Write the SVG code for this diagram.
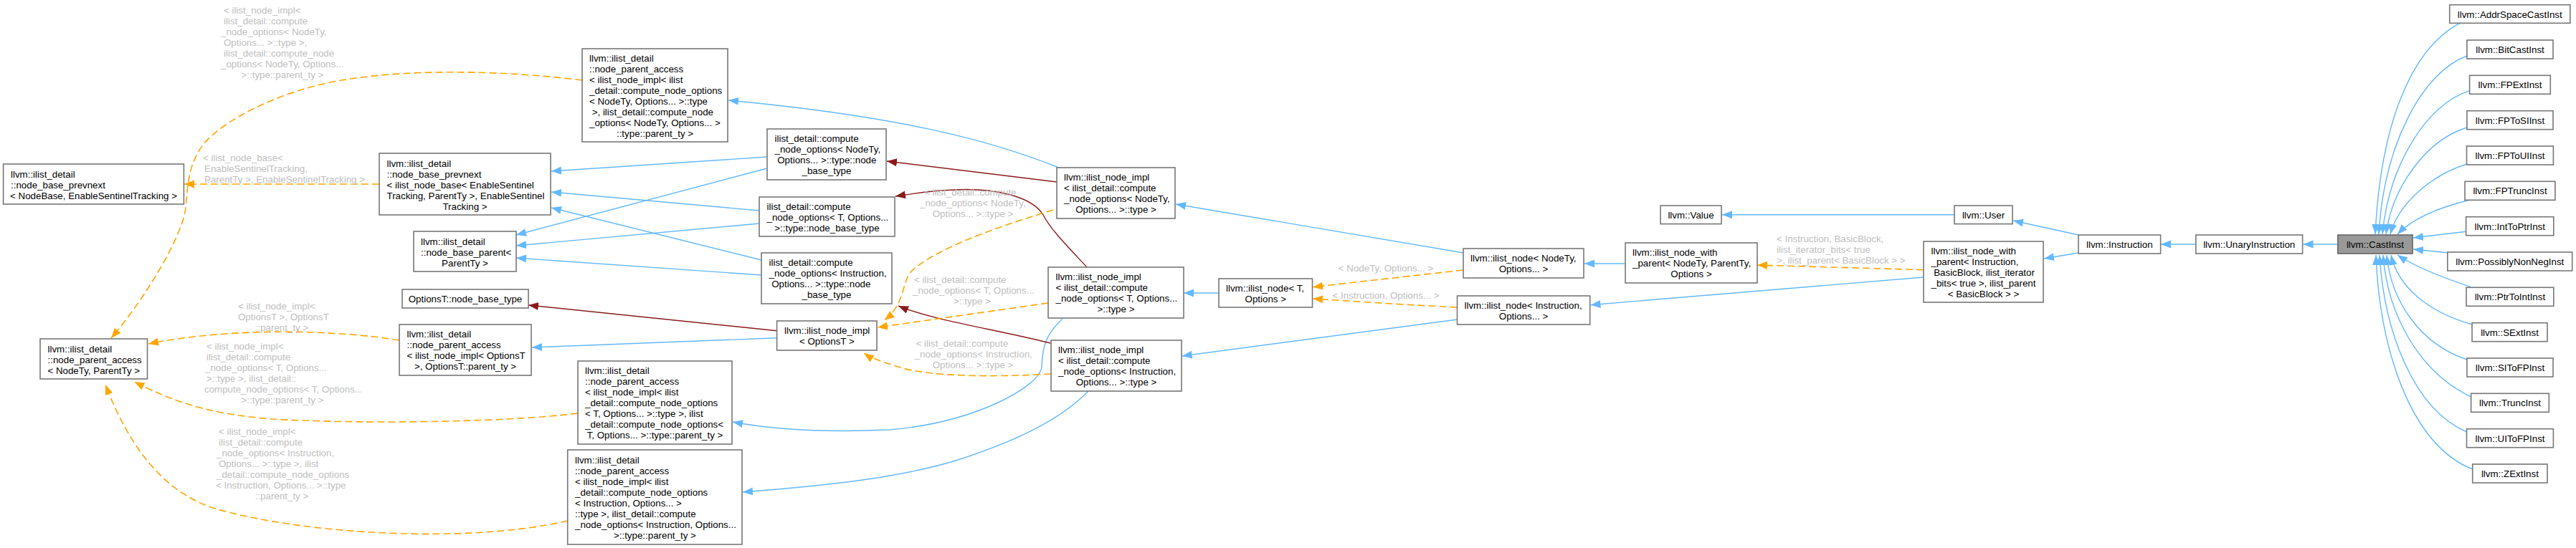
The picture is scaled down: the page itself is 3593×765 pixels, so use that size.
<svg xmlns="http://www.w3.org/2000/svg" width="3593" height="765" viewBox="0 0 3593 765">
<defs>
<style>
.node rect{fill:#ffffff;stroke:#777777;stroke-width:1.6}
.node.cur rect{fill:#999999;stroke:#666666}
text{font-family:'Liberation Sans',Arial,Helvetica,sans-serif;font-size:13.33px;fill:#000000}
.c{text-anchor:middle}
.lbl text{fill:#bebebe}
.eb{fill:none;stroke:#63b8ff;stroke-width:1.4;marker-end:url(#ab)}
.er{fill:none;stroke:#8b1a1a;stroke-width:1.4;marker-end:url(#ar)}
.eo{fill:none;stroke:#ffa500;stroke-width:1.6;stroke-dasharray:10,5;marker-end:url(#ao)}
</style>
<marker id="ab" viewBox="0 0 14 12" refX="14" refY="6" markerWidth="14" markerHeight="12" markerUnits="userSpaceOnUse" orient="auto"><path d="M0,0.5 L14,6 L0,11.5 z" fill="#63b8ff" stroke="none"/></marker>
<marker id="ar" viewBox="0 0 14 12" refX="14" refY="6" markerWidth="14" markerHeight="12" markerUnits="userSpaceOnUse" orient="auto"><path d="M0,0.5 L14,6 L0,11.5 z" fill="#8b1a1a" stroke="none"/></marker>
<marker id="ao" viewBox="0 0 14 12" refX="14" refY="6" markerWidth="14" markerHeight="12" markerUnits="userSpaceOnUse" orient="auto"><path d="M0,0.5 L14,6 L0,11.5 z" fill="#ffa500" stroke="none"/></marker>
</defs>
<rect x="0" y="0" width="3593" height="765" fill="#ffffff"/>

<g id="edges">
<!-- blue inheritance -->
<path class="eb" d="M1070,219 L769,239"/>
<path class="eb" d="M1070,235 L720,328"/>
<path class="eb" d="M1059,294 L769,268"/>
<path class="eb" d="M1059,312 L720,343"/>
<path class="eb" d="M1062,363 L769,290"/>
<path class="eb" d="M1062,384 L720,360"/>
<path class="eb" d="M1083.6,471.7 L742,485"/>
<path class="eb" d="M1476.6,234 C1380,195 1250,162 1016,140"/>
<path class="eb" d="M1482,445 C1458,467 1454,485 1453,512 C1450,540 1360,590 1240,600 C1150,604 1080,600 1022,589"/>
<path class="eb" d="M1518,546 C1480,585 1420,615 1333,643 C1250,668 1150,678 1036,687"/>
<path class="eb" d="M2041,353 L1640,285"/>
<path class="eb" d="M1700,409 L1651,409"/>
<path class="eb" d="M2032.5,446 L1648.7,497"/>
<path class="eb" d="M2267,368 L2210,368"/>
<path class="eb" d="M2683,387 L2218.5,425.7"/>
<path class="eb" d="M2726,299.8 L2402,299.8"/>
<path class="eb" d="M2899,328 L2808,308"/>
<path class="eb" d="M2899,353 L2851,361"/>
<path class="eb" d="M3062.8,341 L3014,341"/>
<path class="eb" d="M3260.8,341 L3212.5,341"/>
<path class="eb" d="M3430.6,32.3 C3360,70 3320,180 3313,327"/>
<path class="eb" d="M3441,78 C3380,100 3325,200 3318,327"/>
<path class="eb" d="M3444.6,126.7 C3385,145 3332,230 3323,327"/>
<path class="eb" d="M3441,178 C3385,195 3337,260 3328,327"/>
<path class="eb" d="M3440.5,229 C3390,245 3345,285 3334,327"/>
<path class="eb" d="M3445,279 C3400,290 3365,305 3344,327"/>
<path class="eb" d="M3439.6,323.3 L3366,332"/>
<path class="eb" d="M3413.8,352.7 L3366,348"/>
<path class="eb" d="M3446,400.7 C3400,385 3365,370 3344,356"/>
<path class="eb" d="M3448,453 C3385,435 3345,400 3335,356"/>
<path class="eb" d="M3441,502 C3375,480 3335,420 3329,356"/>
<path class="eb" d="M3446.6,554 C3375,520 3330,440 3324,356"/>
<path class="eb" d="M3440.5,603 C3365,570 3325,460 3319,356"/>
<path class="eb" d="M3448.7,655 C3360,620 3318,480 3314,356"/>
<!-- dark red usage -->
<path class="er" d="M1474,254 L1237,225"/>
<path class="er" d="M1516,373 C1490,345 1465,320 1455,300 C1440,275 1390,262 1330,265 C1300,266 1275,270 1249,274"/>
<path class="er" d="M1465,479 C1390,460 1300,447 1253,427"/>
<path class="er" d="M1083.6,461.7 L737,426"/>
<!-- orange template instances -->
<path class="eo" d="M529,257 L257,257"/>
<path class="eo" d="M812,112 C700,98 560,95 460,115 C380,132 310,170 285,200 C262,228 262,260 259,290 C255,330 200,420 155,472"/>
<path class="eo" d="M557,475 C480,462 330,455 207,480"/>
<path class="eo" d="M806,577 C700,590 500,592 380,585 C290,578 240,560 187.5,533"/>
<path class="eo" d="M792,727 C650,760 420,745 300,710 C220,685 175,610 147,537"/>
<path class="eo" d="M1469,293 C1380,320 1300,350 1270,380 C1258,395 1262,425 1233.6,447"/>
<path class="eo" d="M1462,423 L1224,457"/>
<path class="eo" d="M1466,522 C1400,526 1300,527 1256,513 C1230,505 1215,500 1205,493"/>
<path class="eo" d="M2041,377 L1831,400.7"/>
<path class="eo" d="M2032.5,429 C1950,425 1880,420 1831,417"/>
<path class="eo" d="M2683,376.7 L2451,370"/>
<g class="lbl">
<text x="312" y="19">&lt; ilist_node_impl&lt;</text>
<text x="312" y="34">ilist_detail::compute</text>
<text x="308" y="49">_node_options&lt; NodeTy,</text>
<text x="312" y="64">Options... &gt;::type &gt;,</text>
<text x="312" y="79">ilist_detail::compute_node</text>
<text x="308" y="94">_options&lt; NodeTy, Options...</text>
<text class="c" x="394" y="109">&gt;::type::parent_ty &gt;</text>

<text x="283" y="225">&lt; ilist_node_base&lt;</text>
<text x="285" y="240">EnableSentinelTracking,</text>
<text x="285" y="255">ParentTy &gt;, EnableSentinelTracking &gt;</text>

<text x="332" y="432">&lt; ilist_node_impl&lt;</text>
<text x="332" y="447">OptionsT &gt;, OptionsT</text>
<text class="c" x="393" y="462">::parent_ty &gt;</text>

<text x="288" y="488">&lt; ilist_node_impl&lt;</text>
<text x="288" y="503">ilist_detail::compute</text>
<text x="286" y="518">_node_options&lt; T, Options...</text>
<text x="288" y="533">&gt;::type &gt;, ilist_detail::</text>
<text x="285" y="548">compute_node_options&lt; T, Options...</text>
<text class="c" x="394" y="563">&gt;::type::parent_ty &gt;</text>

<text x="305" y="607">&lt; ilist_node_impl&lt;</text>
<text x="305" y="622">ilist_detail::compute</text>
<text x="302" y="637">_node_options&lt; Instruction,</text>
<text x="305" y="652">Options... &gt;::type &gt;, ilist</text>
<text x="302" y="667">_detail::compute_node_options</text>
<text x="301" y="682">&lt; Instruction, Options... &gt;::type</text>
<text class="c" x="393" y="697">::parent_ty &gt;</text>

<text x="1289" y="273">&lt; ilist_detail::compute</text>
<text x="1283" y="288">_node_options&lt; NodeTy,</text>
<text class="c" x="1357" y="303">Options... &gt;::type &gt;</text>

<text x="1275" y="395">&lt; ilist_detail::compute</text>
<text x="1273" y="410">_node_options&lt; T, Options...</text>
<text class="c" x="1356" y="425">&gt;::type &gt;</text>

<text x="1277.6" y="484">&lt; ilist_detail::compute</text>
<text x="1275.7" y="499">_node_options&lt; Instruction,</text>
<text class="c" x="1357" y="514">Options... &gt;::type &gt;</text>

<text class="c" x="1933" y="379">&lt; NodeTy, Options... &gt;</text>
<text class="c" x="1933" y="417">&lt; Instruction, Options... &gt;</text>

<text x="2478" y="338">&lt; Instruction, BasicBlock,</text>
<text x="2478" y="353">ilist_iterator_bits&lt; true</text>
<text class="c" x="2568" y="368">&gt;, ilist_parent&lt; BasicBlock &gt; &gt;</text>
</g>
</g>

<g id="n_prevnext" class="node"><rect x="4.6" y="229" width="251.8" height="56"/>
<text x="15" y="247.5">llvm::ilist_detail</text><text x="15" y="262.5">::node_base_prevnext</text><text class="c" x="130.5" y="277.5">&lt; NodeBase, EnableSentinelTracking &gt;</text></g>

<g id="n_npa_base" class="node"><rect x="56" y="473" width="149.5" height="56"/>
<text x="66.5" y="491.5">llvm::ilist_detail</text><text x="66.5" y="506.5">::node_parent_access</text><text class="c" x="130.75" y="521.5">&lt; NodeTy, ParentTy &gt;</text></g>

<g id="n_prevnext_base" class="node"><rect x="529" y="214" width="239" height="86"/>
<text x="539.5" y="232.5">llvm::ilist_detail</text><text x="539.5" y="247.5">::node_base_prevnext</text><text x="539.5" y="262.5">&lt; ilist_node_base&lt; EnableSentinel</text><text x="539.5" y="277.5">Tracking, ParentTy &gt;, EnableSentinel</text><text class="c" x="648.5" y="292.5">Tracking &gt;</text></g>

<g id="n_base_parent" class="node"><rect x="577" y="323" width="143" height="56"/>
<text x="587" y="341.5">llvm::ilist_detail</text><text x="587" y="356.5">::node_base_parent&lt;</text><text class="c" x="648.5" y="371.5">ParentTy &gt;</text></g>

<g id="n_npa_nodety" class="node"><rect x="812" y="68" width="203" height="130"/>
<text x="822" y="85.5">llvm::ilist_detail</text><text x="822" y="100.5">::node_parent_access</text><text x="822" y="115.5">&lt; ilist_node_impl&lt; ilist</text><text x="822" y="130.5">_detail::compute_node_options</text><text x="822" y="145.5">&lt; NodeTy, Options... &gt;::type</text><text x="825.7" y="160.5">&gt;, ilist_detail::compute_node</text><text x="822" y="175.5">_options&lt; NodeTy, Options... &gt;</text><text class="c" x="913.5" y="190.5">::type::parent_ty &gt;</text></g>

<g id="n_cno_nodety" class="node"><rect x="1070" y="180" width="166" height="71"/>
<text x="1080.5" y="198">ilist_detail::compute</text><text x="1080.5" y="213">_node_options&lt; NodeTy,</text><text x="1084.2" y="228">Options... &gt;::type::node</text><text class="c" x="1153" y="243">_base_type</text></g>

<g id="n_cno_t" class="node"><rect x="1059" y="275" width="189" height="55"/>
<text x="1069.5" y="292.5">ilist_detail::compute</text><text x="1069.5" y="307.5">_node_options&lt; T, Options...</text><text class="c" x="1153.5" y="322.5">&gt;::type::node_base_type</text></g>

<g id="n_cno_instr" class="node"><rect x="1062" y="353" width="182" height="71"/>
<text x="1072.5" y="371">ilist_detail::compute</text><text x="1072.5" y="386">_node_options&lt; Instruction,</text><text x="1076.2" y="401">Options... &gt;::type::node</text><text class="c" x="1153" y="416">_base_type</text></g>

<g id="n_optionsT_nbt" class="node"><rect x="561" y="404" width="176" height="26"/>
<text class="c" x="649" y="422">OptionsT::node_base_type</text></g>

<g id="n_npa_optionsT" class="node"><rect x="557" y="453" width="184" height="71"/>
<text x="567.5" y="471">llvm::ilist_detail</text><text x="567.5" y="486">::node_parent_access</text><text x="567.5" y="501">&lt; ilist_node_impl&lt; OptionsT</text><text class="c" x="649" y="516">&gt;, OptionsT::parent_ty &gt;</text></g>

<g id="n_npa_t" class="node"><rect x="806" y="504" width="215" height="116"/>
<text x="816" y="522">llvm::ilist_detail</text><text x="816" y="537">::node_parent_access</text><text x="816" y="552">&lt; ilist_node_impl&lt; ilist</text><text x="816" y="567">_detail::compute_node_options</text><text x="816" y="582">&lt; T, Options... &gt;::type &gt;, ilist</text><text x="816" y="597">_detail::compute_node_options&lt;</text><text class="c" x="913.5" y="612">T, Options... &gt;::type::parent_ty &gt;</text></g>

<g id="n_npa_instr" class="node"><rect x="791.7" y="628" width="243.3" height="132"/>
<text x="802" y="646.5">llvm::ilist_detail</text><text x="802" y="661.5">::node_parent_access</text><text x="802" y="676.5">&lt; ilist_node_impl&lt; ilist</text><text x="802" y="691.5">_detail::compute_node_options</text><text x="802" y="706.5">&lt; Instruction, Options... &gt;</text><text x="802" y="721.5">::type &gt;, ilist_detail::compute</text><text x="802" y="736.5">_node_options&lt; Instruction, Options...</text><text class="c" x="913.4" y="751.5">&gt;::type::parent_ty &gt;</text></g>

<g id="n_impl_optionsT" class="node"><rect x="1083.6" y="448" width="139.4" height="41"/>
<text x="1094" y="466">llvm::ilist_node_impl</text><text class="c" x="1153.3" y="481">&lt; OptionsT &gt;</text></g>

<g id="n_impl_nodety" class="node"><rect x="1474" y="234" width="165" height="71"/>
<text x="1484" y="252">llvm::ilist_node_impl</text><text x="1484" y="267">&lt; ilist_detail::compute</text><text x="1484" y="282">_node_options&lt; NodeTy,</text><text class="c" x="1556.5" y="297">Options... &gt;::type &gt;</text></g>

<g id="n_impl_t" class="node"><rect x="1462" y="373" width="189" height="71"/>
<text x="1472.5" y="391">llvm::ilist_node_impl</text><text x="1472.5" y="406">&lt; ilist_detail::compute</text><text x="1472.5" y="421">_node_options&lt; T, Options...</text><text class="c" x="1556.5" y="436">&gt;::type &gt;</text></g>

<g id="n_impl_instr" class="node"><rect x="1466" y="475" width="182" height="71"/>
<text x="1476" y="493">llvm::ilist_node_impl</text><text x="1476" y="508">&lt; ilist_detail::compute</text><text x="1476" y="523">_node_options&lt; Instruction,</text><text class="c" x="1557" y="538">Options... &gt;::type &gt;</text></g>

<g id="n_node_t" class="node"><rect x="1700" y="389" width="130.5" height="40"/>
<text x="1710" y="406.5">llvm::ilist_node&lt; T,</text><text class="c" x="1765.25" y="421.5">Options &gt;</text></g>

<g id="n_node_nodety" class="node"><rect x="2041" y="347" width="168" height="41"/>
<text x="2051" y="365">llvm::ilist_node&lt; NodeTy,</text><text class="c" x="2125" y="380">Options... &gt;</text></g>

<g id="n_node_instr" class="node"><rect x="2032.5" y="413" width="185.2" height="40"/>
<text x="2042.5" y="430.5">llvm::ilist_node&lt; Instruction,</text><text class="c" x="2125.1" y="445.5">Options... &gt;</text></g>

<g id="n_value" class="node"><rect x="2316" y="287" width="85" height="25.6"/>
<text class="c" x="2358.5" y="304.8">llvm::Value</text></g>

<g id="n_nwp_nodety" class="node"><rect x="2267" y="339" width="184" height="56"/>
<text x="2277" y="357">llvm::ilist_node_with</text><text x="2277" y="372">_parent&lt; NodeTy, ParentTy,</text><text class="c" x="2359" y="387">Options &gt;</text></g>

<g id="n_user" class="node"><rect x="2726" y="287" width="81" height="25.6"/>
<text class="c" x="2766.5" y="304.8">llvm::User</text></g>

<g id="n_nwp_instr" class="node"><rect x="2683" y="337" width="167" height="85"/>
<text x="2693.5" y="354.5">llvm::ilist_node_with</text><text x="2693.5" y="369.5">_parent&lt; Instruction,</text><text x="2697.2" y="384.5">BasicBlock, ilist_iterator</text><text x="2693.5" y="399.5">_bits&lt; true &gt;, ilist_parent</text><text class="c" x="2766.5" y="414.5">&lt; BasicBlock &gt; &gt;</text></g>

<g id="n_instruction" class="node"><rect x="2899" y="328" width="114.6" height="26"/>
<text class="c" x="2956.3" y="346">llvm::Instruction</text></g>

<g id="n_unary" class="node"><rect x="3062.8" y="328" width="148.8" height="26"/>
<text class="c" x="3137.2" y="346">llvm::UnaryInstruction</text></g>

<g id="n_castinst" class="node cur"><rect x="3260.8" y="328" width="104.2" height="26"/>
<text class="c" x="3312.9" y="346">llvm::CastInst</text></g>

<g id="n_addrspacecast" class="node"><rect x="3416.7" y="6.7" width="168.1" height="25.6"/><text class="c" x="3500.75" y="24.5">llvm::AddrSpaceCastInst</text></g>
<g id="n_bitcast" class="node"><rect x="3440.9" y="56" width="120.1" height="26"/><text class="c" x="3501" y="74">llvm::BitCastInst</text></g>
<g id="n_fpext" class="node"><rect x="3444.6" y="105.3" width="112.7" height="26"/><text class="c" x="3501" y="123.3">llvm::FPExtInst</text></g>
<g id="n_fptosi" class="node"><rect x="3440.9" y="154.7" width="120.1" height="26"/><text class="c" x="3501" y="172.7">llvm::FPToSIInst</text></g>
<g id="n_fptoui" class="node"><rect x="3440.5" y="204" width="120.9" height="26"/><text class="c" x="3501" y="222">llvm::FPToUIInst</text></g>
<g id="n_fptrunc" class="node"><rect x="3438" y="253.3" width="125.9" height="26"/><text class="c" x="3501" y="271.3">llvm::FPTruncInst</text></g>
<g id="n_inttoptr" class="node"><rect x="3439.6" y="302.7" width="122.2" height="26"/><text class="c" x="3500.7" y="320.7">llvm::IntToPtrInst</text></g>
<g id="n_possiblynonneg" class="node"><rect x="3413.8" y="352" width="173.9" height="26"/><text class="c" x="3500.75" y="370">llvm::PossiblyNonNegInst</text></g>
<g id="n_ptrtoint" class="node"><rect x="3440" y="401.3" width="121.8" height="26"/><text class="c" x="3500.9" y="419.3">llvm::PtrToIntInst</text></g>
<g id="n_sext" class="node"><rect x="3448" y="450.7" width="105" height="26"/><text class="c" x="3500.5" y="468.7">llvm::SExtInst</text></g>
<g id="n_sitofp" class="node"><rect x="3440.9" y="500" width="120.1" height="26"/><text class="c" x="3501" y="518">llvm::SIToFPInst</text></g>
<g id="n_trunc" class="node"><rect x="3446.6" y="549.3" width="108.7" height="26"/><text class="c" x="3501" y="567.3">llvm::TruncInst</text></g>
<g id="n_uitofp" class="node"><rect x="3440.5" y="598.7" width="120.9" height="26"/><text class="c" x="3501" y="616.7">llvm::UIToFPInst</text></g>
<g id="n_zext" class="node"><rect x="3448.7" y="648" width="104.3" height="26"/><text class="c" x="3500.9" y="666">llvm::ZExtInst</text></g>
</svg>
